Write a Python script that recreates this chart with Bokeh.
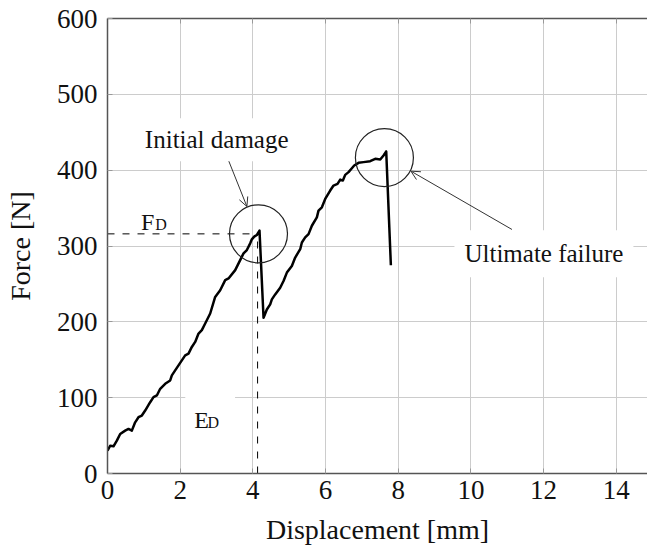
from bokeh.plotting import figure
from bokeh.models import LinearAxis, Label, Arrow, OpenHead, Range1d, FixedTicker, BoxAnnotation
from bokeh.embed import file_html
from bokeh.resources import INLINE

# ---- data ----
displacement = [0.0, 0.073, 0.165, 0.257, 0.349, 0.486, 0.578, 0.670, 0.761, 0.853,
                0.945, 1.037, 1.174, 1.266, 1.358, 1.450, 1.587, 1.725, 1.771, 1.862,
                1.954, 2.046, 2.138, 2.229, 2.321, 2.413, 2.505, 2.596, 2.688, 2.826,
                2.963, 3.101, 3.239, 3.330, 3.514, 3.651, 3.743, 3.835, 3.927, 3.972,
                4.037, 4.110, 4.183, 4.294, 4.385, 4.477, 4.523, 4.615, 4.752, 4.844,
                4.936, 5.073, 5.165, 5.303, 5.349, 5.440, 5.532, 5.624, 5.761, 5.807,
                5.899, 5.991, 6.128, 6.220, 6.330, 6.404, 6.477, 6.541, 6.633, 6.725,
                6.789, 6.908, 7.046, 7.229, 7.367, 7.505, 7.596, 7.670, 7.798]
force = [30.0, 36.6, 35.8, 43.3, 52.1, 56.5, 58.7, 56.5, 67.5, 74.2,
         76.4, 83.0, 94.0, 100.7, 102.9, 111.7, 118.3, 122.7, 129.4, 136.0,
         142.6, 149.2, 155.8, 158.1, 166.9, 173.5, 184.5, 189.0, 197.8, 211.0,
         232.9, 241.7, 255.0, 257.2, 268.2, 281.4, 290.3, 294.7, 303.5, 308.8,
         312.3, 314.5, 320.3, 205.3, 216.3, 223.0, 229.6, 236.2, 245.0, 253.8,
         264.9, 273.7, 284.8, 295.8, 304.6, 311.3, 315.7, 326.7, 337.7, 346.6,
         351.0, 362.0, 373.1, 379.7, 381.9, 387.6, 386.3, 393.8, 397.4, 402.6,
         406.2, 409.7, 410.6, 411.9, 415.0, 414.1, 419.4, 424.7, 274.6]

x_ticks = [0, 2, 4, 6, 8, 10, 12, 14]
y_ticks = [0, 100, 200, 300, 400, 500, 600]

damage_force = 316.0      # F_D
damage_disp = 4.13        # E_D
circle_x = [4.155, 7.62]
circle_y = [316.0, 416.5]

FONT = "Liberation Serif"
INK = "#111111"

p = figure(width=647, height=547, output_backend="svg", toolbar_location=None,
           x_range=Range1d(0, 14.86), y_range=Range1d(0, 600),
           min_border_left=107, min_border_right=0, min_border_top=18,
           min_border_bottom=74)
p.outline_line_color = None
p.background_fill_color = "white"
p.border_fill_color = "white"

for ax, ticks, lab in ((p.xaxis, x_ticks, "Displacement [mm]"), (p.yaxis, y_ticks, "Force [N]")):
    ax.ticker = FixedTicker(ticks=ticks)
    ax.axis_label = lab
    ax.axis_label_text_font = FONT
    ax.axis_label_text_font_size = "28px"
    ax.axis_label_text_font_style = "normal"
    ax.axis_label_text_color = INK
    ax.major_label_text_font = FONT
    ax.major_label_text_font_size = "27px"
    ax.major_label_text_color = INK
    ax.axis_line_color = "#555555"
    ax.axis_line_width = 1.5
    ax.major_tick_in = 5
    ax.major_tick_out = 0
    ax.major_tick_line_color = "#999999"
    ax.minor_tick_line_color = None

p.xaxis.major_label_standoff = 7
p.xaxis.axis_label_standoff = 12
p.yaxis.major_label_standoff = 10
p.yaxis.axis_label_standoff = 18

top = LinearAxis(ticker=FixedTicker(ticks=x_ticks), axis_line_color="#555555",
                 axis_line_width=1.5, major_tick_in=5, major_tick_out=0,
                 major_tick_line_color="#999999", minor_tick_line_color=None,
                 major_label_text_color=None, major_label_text_font_size="1px",
                 major_label_standoff=0)
p.add_layout(top, "above")

p.xgrid.grid_line_color = "#cccccc"
p.ygrid.grid_line_color = "#cccccc"
p.xgrid.grid_line_width = 1
p.ygrid.grid_line_width = 1

# dashed guide lines for F_D and E_D
p.line([0, damage_disp], [damage_force, damage_force], line_color="black",
       line_width=1, line_dash="7 8")
p.line([damage_disp, damage_disp], [0, damage_force], line_color="black",
       line_width=1, line_dash="7 8")

# curve
p.line(displacement, force, line_color="black", line_width=2.5, line_join="round")

# circles
p.scatter(circle_x, circle_y, marker="circle", size=58, fill_color=None,
          line_color="#222222", line_width=1.2)

# arrows
p.add_layout(Arrow(end=OpenHead(size=9, line_width=1, line_color="#333333"),
                   x_start=3.24, y_start=423.7, x_end=3.836, y_end=352.1,
                   line_width=1, line_color="#333333"))
p.add_layout(Arrow(end=OpenHead(size=9, line_width=1, line_color="#333333"),
                   x_start=11.13, y_start=321.8, x_end=8.349, y_end=398.7,
                   line_width=1, line_color="#333333"))

# labels
p.add_layout(Label(x=3.005, y=440.1, text="Initial damage", text_font=FONT,
                   text_font_size="25px", text_align="center",
                   text_baseline="alphabetic", text_color=INK,
                   background_fill_color="white", padding=8))
p.add_layout(Label(x=12.01, y=289.7, text="Ultimate failure", text_font=FONT,
                   text_font_size="25px", text_align="center",
                   text_baseline="alphabetic", text_color=INK,
                   background_fill_color="white", padding=10))

p.add_layout(Label(x=0.919, y=331.4, text="F", text_font=FONT, text_font_size="24px",
                   text_align="left", text_baseline="alphabetic", text_color=INK))
p.add_layout(Label(x=1.313, y=328.0, text="D", text_font=FONT, text_font_size="16px",
                   text_align="left", text_baseline="alphabetic", text_color=INK))

# white patch behind E_D (breaks the grid line like the reference)
p.add_layout(BoxAnnotation(left=2.14, right=3.51, bottom=60, top=108,
                           fill_color="white", fill_alpha=1.0, line_color=None))
p.add_layout(Label(x=2.386, y=69.9, text="E", text_font=FONT, text_font_size="24px",
                   text_align="left", text_baseline="alphabetic", text_color=INK))
p.add_layout(Label(x=2.752, y=67.7, text="D", text_font=FONT, text_font_size="16px",
                   text_align="left", text_baseline="alphabetic", text_color=INK))

open("out.html", "w").write(file_html(p, INLINE))
